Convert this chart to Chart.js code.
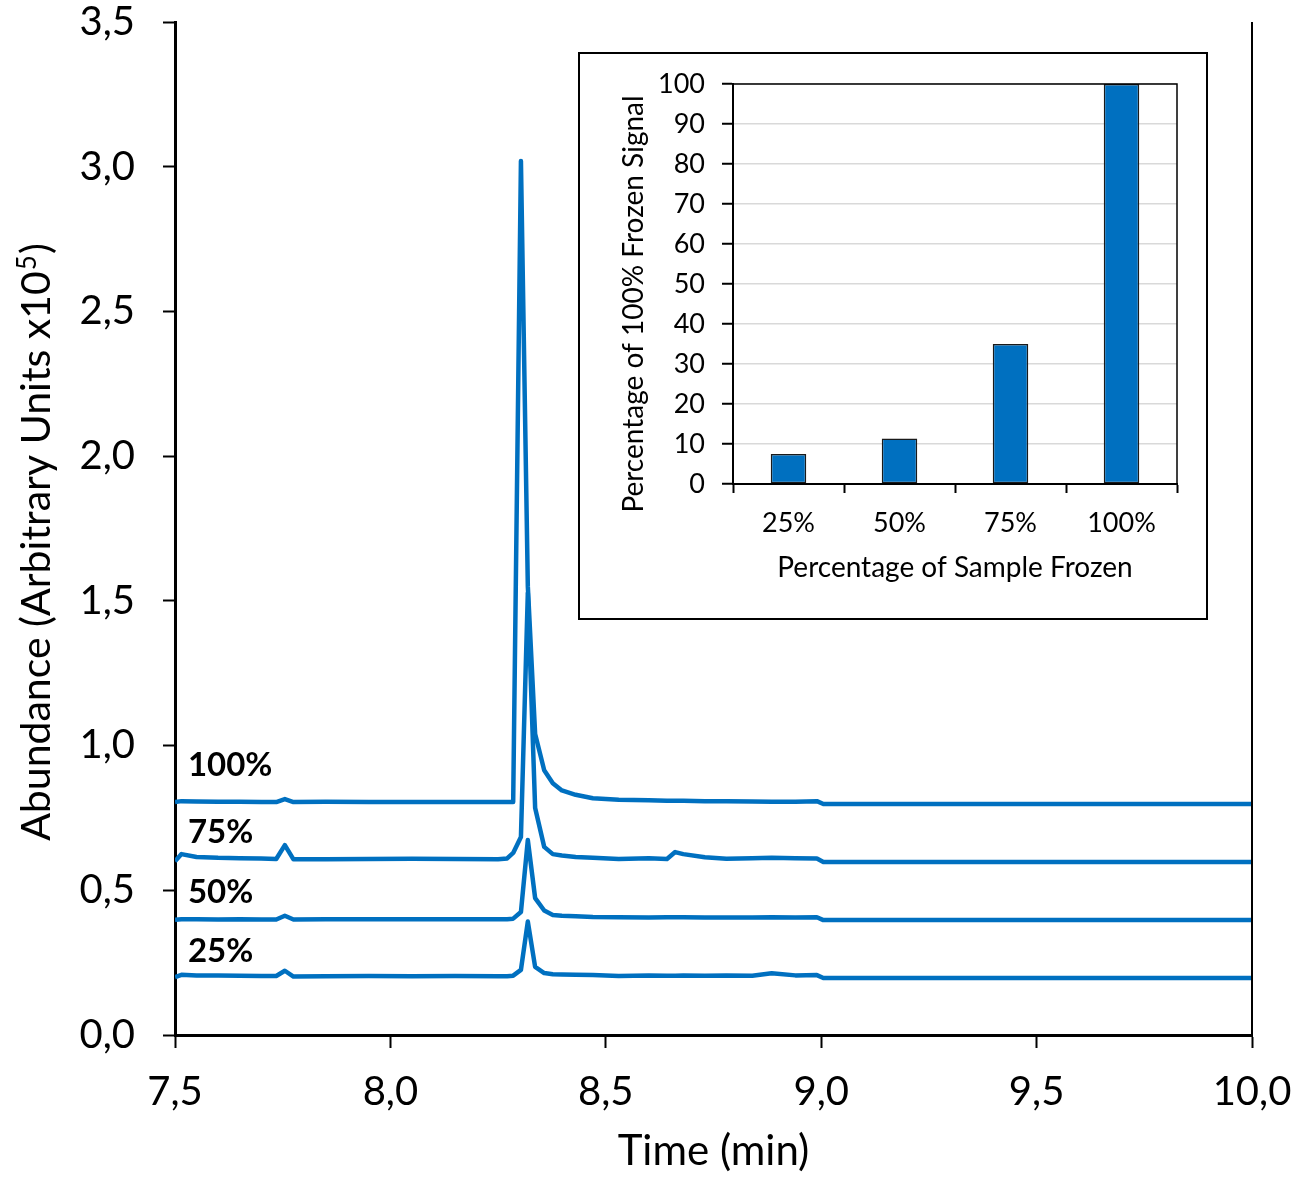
<!DOCTYPE html>
<html>
<head>
<meta charset="utf-8">
<script src="https://cdn.jsdelivr.net/npm/chart.js@4.4.1/dist/chart.umd.min.js"></script>
<style>
  html, body { margin: 0; padding: 0; background: #fff; }
  #wrap { position: relative; width: 1296px; height: 1177px; }
  #main { position: absolute; left: 0; top: 0; }
  #inset { position: absolute; left: 578px; top: 52px; }
</style>
</head>
<body>
<div id="wrap">
  <canvas id="main" width="1296" height="1177"></canvas>
  <canvas id="inset" width="630" height="568"></canvas>
</div>
<script>
// retention time (min), shared by all four chromatograms
const times = [
  7.50, 7.515, 7.55, 7.60, 7.65, 7.70, 7.735, 7.755, 7.775, 7.85,
  7.95, 8.05, 8.15, 8.25, 8.271, 8.285, 8.303, 8.319, 8.336, 8.357,
  8.377, 8.398, 8.43, 8.47, 8.53, 8.60, 8.642, 8.661, 8.68, 8.73,
  8.78, 8.84, 8.885, 8.94, 8.99, 9.005, 10.0
];

// abundance (x10^5), each trace offset on the y axis
const frozen100 = [
  0.805, 0.808, 0.807, 0.806, 0.806, 0.805, 0.805, 0.815, 0.805, 0.806,
  0.805, 0.805, 0.805, 0.805, 0.805, 0.805, 3.020, 1.550, 1.040, 0.915,
  0.870, 0.845, 0.830, 0.818, 0.813, 0.811, 0.809, 0.809, 0.809, 0.808,
  0.808, 0.807, 0.806, 0.806, 0.808, 0.798, 0.798
];
const frozen75 = [
  0.600, 0.625, 0.615, 0.612, 0.611, 0.610, 0.608, 0.656, 0.607, 0.607,
  0.608, 0.609, 0.608, 0.607, 0.610, 0.629, 0.684, 1.527, 0.784, 0.650,
  0.625, 0.620, 0.615, 0.612, 0.608, 0.611, 0.608, 0.632, 0.625, 0.614,
  0.609, 0.611, 0.612, 0.611, 0.610, 0.598, 0.598
];
const frozen50 = [
  0.398, 0.400, 0.400, 0.399, 0.400, 0.399, 0.399, 0.412, 0.399, 0.400,
  0.400, 0.400, 0.400, 0.400, 0.400, 0.402, 0.425, 0.674, 0.473, 0.430,
  0.415, 0.412, 0.410, 0.408, 0.407, 0.406, 0.407, 0.407, 0.407, 0.406,
  0.406, 0.406, 0.407, 0.406, 0.407, 0.397, 0.397
];
const frozen25 = [
  0.200, 0.208, 0.206, 0.206, 0.205, 0.204, 0.204, 0.222, 0.202, 0.203,
  0.204, 0.203, 0.204, 0.203, 0.203, 0.205, 0.225, 0.392, 0.235, 0.214,
  0.210, 0.209, 0.208, 0.207, 0.204, 0.206, 0.205, 0.205, 0.206, 0.205,
  0.206, 0.205, 0.213, 0.206, 0.207, 0.197, 0.197
];

const traces = [frozen100, frozen75, frozen50, frozen25];
const traceNames = ['100%', '75%', '50%', '25%'];

// inset: signal relative to the fully frozen sample
const insetCategories = ['25%', '50%', '75%', '100%'];
const insetValues = [7.5, 11.4, 35, 100];

const FONT = 'Lato, "Open Sans", sans-serif';
const BLUE = '#0070C0';

const commaFmt = v => (+v).toFixed(1).replace('.', ',');

// keep the plot area fixed: no extra room for overhanging tick labels
const noOverhang = s => {
  s.paddingLeft = 0; s.paddingRight = 0;
  s.paddingTop = 0; s.paddingBottom = 0;
};

// trace names sit just above the start of each line
const tagLift = [0.128, 0.1, 0.096, 0.09];

const mainDecor = {
  id: 'mainDecor',
  beforeDraw(chart) {
    const { ctx } = chart;
    ctx.save();
    ctx.fillStyle = '#fff';
    ctx.fillRect(0, 0, chart.width, chart.height);
    ctx.restore();
  },
  afterDraw(chart) {
    const { ctx, chartArea: a, scales: { x, y } } = chart;
    ctx.save();
    // right frame line
    ctx.strokeStyle = '#000';
    ctx.lineWidth = 2;
    ctx.beginPath();
    ctx.moveTo(a.right, a.top);
    ctx.lineTo(a.right, a.bottom);
    ctx.stroke();

    ctx.fillStyle = '#000';
    ctx.font = `bold 33px ${FONT}`;
    ctx.textBaseline = 'middle';
    ctx.textAlign = 'left';
    traceNames.forEach((name, i) => {
      ctx.fillText(name, x.getPixelForValue(7.53), y.getPixelForValue(traces[i][0] + tagLift[i]));
    });

    // y title with superscript exponent
    const head = 'Abundance (Arbitrary Units x10';
    ctx.font = `41px ${FONT}`;
    const w1 = ctx.measureText(head).width;
    const w3 = ctx.measureText(')').width;
    ctx.font = `26px ${FONT}`;
    const w2 = ctx.measureText('5').width;
    ctx.translate(50, 543);
    ctx.rotate(-Math.PI / 2);
    ctx.textBaseline = 'alphabetic';
    let cx = -(w1 + w2 + w3) / 2;
    ctx.font = `41px ${FONT}`;
    ctx.fillText(head, cx, 0);
    cx += w1;
    ctx.font = `26px ${FONT}`;
    ctx.fillText('5', cx + 1, -14);
    cx += w2 + 2;
    ctx.font = `41px ${FONT}`;
    ctx.fillText(')', cx, 0);
    ctx.restore();
  }
};

new Chart(document.getElementById('main'), {
  type: 'line',
  data: {
    datasets: traces.map((vals, i) => ({
      label: traceNames[i],
      data: times.map((t, k) => ({ x: t, y: vals[k] })),
      borderColor: BLUE,
      borderWidth: 4.5,
      pointRadius: 0,
      tension: 0,
      borderJoinStyle: 'round',
      fill: false
    }))
  },
  options: {
    responsive: false,
    animation: false,
    events: [],
    layout: { padding: { top: 22, right: 44, left: 0, bottom: 0 } },
    plugins: { legend: { display: false }, tooltip: { enabled: false } },
    scales: {
      x: {
        type: 'linear',
        min: 7.5,
        max: 10,
        afterFit: s => { s.height = 142; noOverhang(s); },
        ticks: {
          stepSize: 0.5,
          callback: commaFmt,
          font: { family: FONT, size: 40 },
          color: '#000',
          padding: 20,
          maxRotation: 0
        },
        grid: { drawOnChartArea: false, tickLength: 13, tickColor: '#000', tickWidth: 2 },
        border: { color: '#000', width: 3 },
        title: {
          display: true,
          text: 'Time (min)',
          font: { family: FONT, size: 42 },
          color: '#000',
          padding: { top: 0, bottom: 0 }
        }
      },
      y: {
        min: 0,
        max: 3.5,
        afterFit: s => { s.width = 175; noOverhang(s); },
        ticks: {
          stepSize: 0.5,
          callback: commaFmt,
          font: { family: FONT, size: 40 },
          color: '#000',
          padding: 28
        },
        grid: { drawOnChartArea: false, tickLength: 12, tickColor: '#000', tickWidth: 2 },
        border: { color: '#000', width: 3 }
      }
    }
  },
  plugins: [mainDecor]
});

const insetDecor = {
  id: 'insetDecor',
  beforeDraw(chart) {
    const { ctx } = chart;
    ctx.save();
    ctx.fillStyle = '#fff';
    ctx.fillRect(0, 0, chart.width, chart.height);
    ctx.restore();
  },
  afterDraw(chart) {
    const { ctx, chartArea: a } = chart;
    ctx.save();
    ctx.strokeStyle = '#000';
    ctx.lineWidth = 2;
    ctx.strokeRect(1, 1, chart.width - 2, chart.height - 2);
    ctx.lineWidth = 1.5;
    ctx.strokeRect(a.left, a.top, a.right - a.left, a.bottom - a.top);

    ctx.fillStyle = '#000';
    ctx.font = `28px ${FONT}`;
    ctx.textAlign = 'center';
    ctx.textBaseline = 'alphabetic';
    ctx.translate(65, 252);
    ctx.rotate(-Math.PI / 2);
    ctx.fillText('Percentage of 100% Frozen Signal', 0, 0);
    ctx.restore();
  }
};

new Chart(document.getElementById('inset'), {
  type: 'bar',
  data: {
    labels: insetCategories,
    datasets: [{
      data: insetValues,
      backgroundColor: BLUE,
      borderColor: '#1a1a1a',
      borderWidth: 1.5,
      borderSkipped: false,
      categoryPercentage: 1,
      barPercentage: 0.32
    }]
  },
  options: {
    responsive: false,
    animation: false,
    events: [],
    layout: { padding: { top: 32, right: 31, left: 0, bottom: 0 } },
    plugins: { legend: { display: false }, tooltip: { enabled: false } },
    scales: {
      x: {
        afterFit: s => { s.height = 136; noOverhang(s); },
        ticks: { font: { family: FONT, size: 27 }, color: '#000', padding: 14 },
        grid: { offset: true, drawOnChartArea: false, tickLength: 9, tickColor: '#000', tickWidth: 2 },
        border: { color: '#000', width: 2 },
        title: {
          display: true,
          text: 'Percentage of Sample Frozen',
          font: { family: FONT, size: 28 },
          color: '#000',
          padding: { top: 0, bottom: 35 }
        }
      },
      y: {
        min: 0,
        max: 100,
        afterFit: s => { s.width = 155; noOverhang(s); },
        ticks: { stepSize: 10, font: { family: FONT, size: 27 }, color: '#000', padding: 17 },
        grid: { color: '#d9d9d9', lineWidth: 1.5, tickLength: 11, tickColor: '#000', tickWidth: 2 },
        border: { color: '#000', width: 2 }
      }
    }
  },
  plugins: [insetDecor]
});
</script>
</body>
</html>
